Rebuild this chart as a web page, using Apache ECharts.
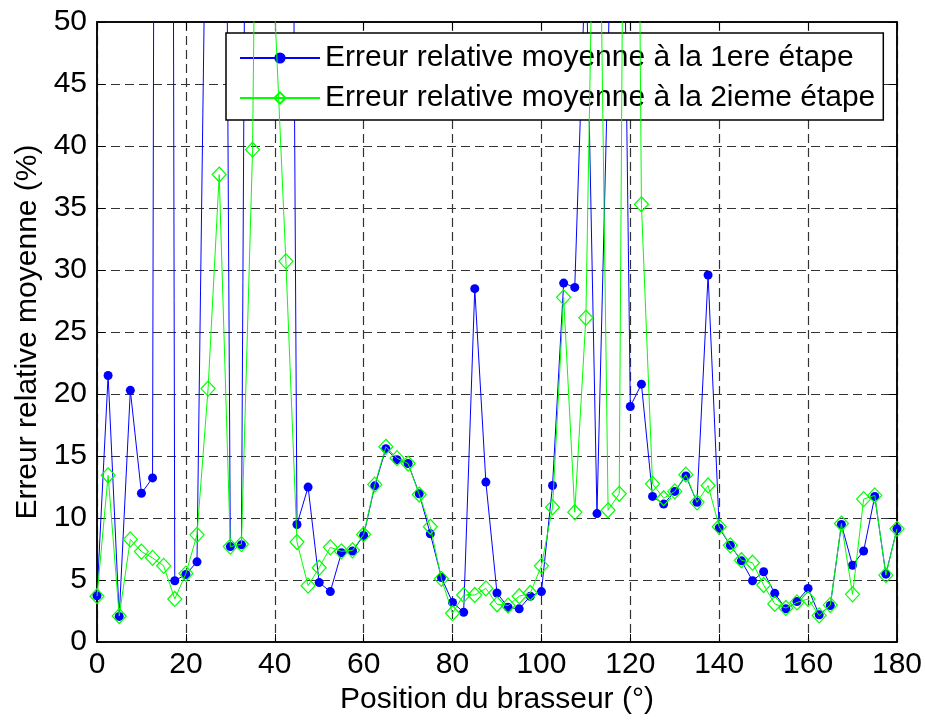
<!DOCTYPE html>
<html>
<head>
<meta charset="utf-8">
<title>Erreur relative moyenne</title>
<script src="https://cdn.jsdelivr.net/npm/echarts@6/dist/echarts.min.js"></script>
<style type="text/css">
html, body { margin: 0; padding: 0; background: #fff; }
#main { width: 925px; height: 720px; }
</style>
</head>
<body>
<div id="main"></div>
<script type="text/javascript">
// positions du brasseur (degrés)
var positions = [0, 2.5, 5, 7.5, 10, 12.5, 15, 17.5, 20, 22.5, 25, 27.5, 30, 32.5, 35, 37.5,
  40, 42.5, 45, 47.5, 50, 52.5, 55, 57.5, 60, 62.5, 65, 67.5, 70, 72.5, 75, 77.5,
  80, 82.5, 85, 87.5, 90, 92.5, 95, 97.5, 100, 102.5, 105, 107.5, 110, 112.5, 115, 117.5,
  120, 122.5, 125, 127.5, 130, 132.5, 135, 137.5, 140, 142.5, 145, 147.5, 150, 152.5,
  155, 157.5, 160, 162.5, 165, 167.5, 170, 172.5, 175, 177.5, 180];

// erreur relative moyenne à la 1ere étape (%)
var etape1 = [3.74, 21.5, 2.07, 20.3, 12.0, 13.24, 400, 4.95, 5.45, 6.47, 75, 164, 7.7, 7.85, 169, 200,
  180, 160, 9.48, 12.5, 4.8, 4.07, 7.2, 7.35, 8.6, 12.6, 15.6, 14.7, 14.4, 11.96, 8.73, 5.2,
  3.2, 2.41, 28.5, 12.9, 3.96, 2.8, 2.68, 3.7, 4.07, 12.63, 28.95, 28.6, 56, 10.36, 47, 91,
  19.0, 20.8, 11.75, 11.13, 12.15, 13.4, 11.27, 29.6, 9.2, 7.8, 6.55, 4.95, 5.67, 3.93,
  2.68, 3.27, 4.33, 2.2, 2.95, 9.48, 6.2, 7.35, 11.75, 5.48, 9.13];

// erreur relative moyenne à la 2ieme étape (%)
var etape2 = [3.7, 13.45, 2.1, 8.28, 7.3, 6.79, 6.15, 3.48, 5.53, 8.65, 20.44, 37.7, 7.7, 7.9, 39.7, 122,
  51, 30.7, 8.07, 4.55, 6.0, 7.64, 7.32, 7.4, 8.68, 12.7, 15.75, 14.83, 14.4, 11.9, 9.3, 5.1,
  2.33, 3.8, 3.8, 4.33, 3.05, 2.95, 3.7, 3.96, 6.15, 10.87, 27.8, 10.47, 26.15, 78, 10.63, 11.96,
  150, 35.3, 12.76, 11.6, 12.15, 13.5, 11.27, 12.63, 9.3, 7.8, 6.6, 6.4, 4.6, 3.08,
  2.75, 3.2, 3.48, 2.15, 3.0, 9.56, 3.85, 11.53, 11.83, 5.4, 9.13];

var nomSerie1 = 'Erreur relative moyenne à la 1ere étape';
var nomSerie2 = 'Erreur relative moyenne à la 2ieme étape';

function paires(ys) {
  return positions.map(function (x, i) { return [x, ys[i]]; });
}

var police = '"Liberation Sans", Arial, sans-serif';
var grille = { show: true, lineStyle: { color: '#333', width: 1.2, type: [9, 5] } };

var myChart = echarts.init(document.getElementById('main'));
var option = {
  animation: false,
  backgroundColor: '#fff',
  grid: { left: 97, right: 28, top: 22, bottom: 76.5, show: true, borderColor: '#000', borderWidth: 1.5, backgroundColor: 'transparent' },
  legend: {
    orient: 'vertical',
    left: 226,
    top: 33,
    padding: [10, 8, 7, 13],
    itemWidth: 80,
    itemHeight: 14,
    itemGap: 10,
    backgroundColor: '#fff',
    borderColor: '#000',
    borderWidth: 1.5,
    textStyle: { fontFamily: police, fontSize: 30, color: '#000' },
    data: [nomSerie1, nomSerie2]
  },
  xAxis: [{
    type: 'value', min: 0, max: 180, interval: 20,
    name: 'Position du brasseur (°)', nameLocation: 'middle', nameGap: 34,
    nameTextStyle: { fontFamily: police, fontSize: 30, color: '#000' },
    axisLine: { show: true, onZero: false, lineStyle: { color: '#000', width: 1.5 } },
    axisTick: { inside: true, length: 8, lineStyle: { color: '#000' } },
    axisLabel: { fontFamily: police, fontSize: 30, color: '#000', margin: 8 },
    splitLine: grille
  }, {
    type: 'value', min: 0, max: 180, interval: 20, position: 'top',
    axisLine: { show: true, onZero: false, lineStyle: { color: '#000', width: 1.5 } },
    axisTick: { inside: true, length: 8, lineStyle: { color: '#000' } },
    axisLabel: { show: false }, splitLine: { show: false }
  }],
  yAxis: [{
    type: 'value', min: 0, max: 50, interval: 5,
    name: 'Erreur relative moyenne (%)', nameLocation: 'middle', nameGap: 48, nameRotate: 90,
    nameTextStyle: { fontFamily: police, fontSize: 30, color: '#000' },
    axisLine: { show: true, onZero: false, lineStyle: { color: '#000', width: 1.5 } },
    axisTick: { inside: true, length: 8, lineStyle: { color: '#000' } },
    axisLabel: { fontFamily: police, fontSize: 30, color: '#000', margin: 10 },
    splitLine: grille
  }, {
    type: 'value', min: 0, max: 50, interval: 5, position: 'right',
    axisLine: { show: true, onZero: false, lineStyle: { color: '#000', width: 1.5 } },
    axisTick: { inside: true, length: 8, lineStyle: { color: '#000' } },
    axisLabel: { show: false }, splitLine: { show: false }
  }],
  series: [{
    name: nomSerie1,
    type: 'line',
    xAxisIndex: 0, yAxisIndex: 0,
    data: paires(etape1),
    clip: true,
    symbol: 'circle',
    symbolSize: 9,
    showAllSymbol: true,
    lineStyle: { color: '#0000ff', width: 1 },
    itemStyle: { color: '#0000ff' },
    z: 3
  }, {
    name: nomSerie2,
    type: 'line',
    xAxisIndex: 0, yAxisIndex: 0,
    data: paires(etape2),
    clip: true,
    symbol: 'diamond',
    symbolSize: [14, 15],
    showAllSymbol: true,
    lineStyle: { color: '#00ff00', width: 1 },
    itemStyle: { color: 'rgba(0,0,0,0)', borderColor: '#00ff00', borderWidth: 1.2 },
    z: 4
  }]
};
myChart.setOption(option);
</script>
</body>
</html>
